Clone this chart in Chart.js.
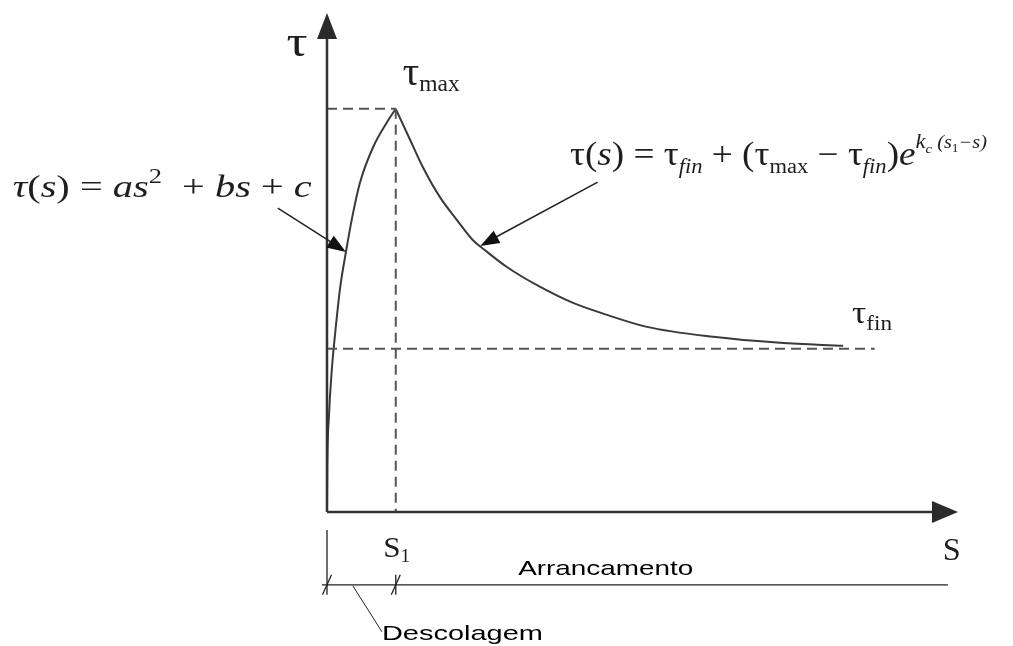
<!DOCTYPE html>
<html>
<head>
<meta charset="utf-8">
<script src="https://cdn.jsdelivr.net/npm/chart.js@4/dist/chart.umd.min.js"></script>
<style>
  body { margin: 0; background: #fff; }
  #wrap { width: 1013px; height: 646px; }
</style>
</head>
<body>
<div id="wrap"><canvas id="bondChart"></canvas></div>
<script>
const riseS = [0, 0.005, 0.03, 0.08, 0.13, 0.21, 0.30, 0.40, 0.52, 0.73, 0.97, 1.09];
const riseTau = [0, 0.90, 1.90, 2.91, 3.59, 4.51, 5.21, 5.91, 6.59, 7.31, 7.85, 8.08];
const decayS = [1.09, 1.32, 1.52, 1.79, 2.06, 2.31, 2.50, 2.85, 3.38, 3.90, 4.44, 5.07, 6.12, 7.18, 8.18];
const decayTau = [8.08, 7.45, 6.91, 6.31, 5.85, 5.45, 5.25, 4.91, 4.51, 4.19, 3.95, 3.71, 3.51, 3.39, 3.33];

const s1 = 1.09;
const tauMax = 8.08;
const tauFin = 3.27;
const finEnd = 8.68;

const serif = '"Liberation Serif", "Times New Roman", serif';
const sans = '"Liberation Sans", Arial, sans-serif';

const toPoints = (xs, ys) => xs.map((x, i) => ({ x: x, y: ys[i] }));

// texto com índices, esticado horizontalmente até à largura pedida
function rich(ctx, x, y, parts, width) {
  let total = 0;
  parts.forEach(p => { ctx.font = p.f; p.w = ctx.measureText(p.t).width; total += p.w; });
  const sx = width ? width / total : 1;
  ctx.save();
  ctx.translate(x, y);
  ctx.scale(sx, 1);
  let cx = 0;
  parts.forEach(p => { ctx.font = p.f; ctx.fillText(p.t, cx, p.dy || 0); cx += p.w; });
  ctx.restore();
}

function arrowHead(ctx, x0, y0, x1, y1, len, half) {
  const a = Math.atan2(y1 - y0, x1 - x0);
  ctx.beginPath();
  ctx.moveTo(x1, y1);
  ctx.lineTo(x1 - len * Math.cos(a) + half * Math.sin(a), y1 - len * Math.sin(a) - half * Math.cos(a));
  ctx.lineTo(x1 - len * Math.cos(a) - half * Math.sin(a), y1 - len * Math.sin(a) + half * Math.cos(a));
  ctx.closePath();
  ctx.fill();
}

function line(ctx, a, b, c, d) {
  ctx.beginPath();
  ctx.moveTo(a, b);
  ctx.lineTo(c, d);
  ctx.stroke();
}

const sketch = {
  id: "sketch",
  afterDatasetsDraw(chart) {
    const ctx = chart.ctx;
    const X = v => chart.scales.x.getPixelForValue(v);
    const Y = v => chart.scales.y.getPixelForValue(v);
    ctx.save();
    ctx.fillStyle = "#2b2b2b";
    ctx.strokeStyle = "#333";

    // eixos
    ctx.lineWidth = 2.5;
    line(ctx, X(0), Y(0), X(0), Y(10) + 20);
    line(ctx, X(0), Y(0), X(10) - 20, Y(0));
    arrowHead(ctx, X(0), Y(0), X(0), Y(10), 26, 10);
    arrowHead(ctx, X(0), Y(0), X(10), Y(0), 26, 11);

    // setas das fórmulas
    ctx.lineWidth = 1.5;
    ctx.strokeStyle = "#222";
    ctx.fillStyle = "#111";
    line(ctx, X(-0.78), Y(6.09), X(0.30) - 10, Y(5.21) - 7);
    arrowHead(ctx, X(-0.78), Y(6.09), X(0.30), Y(5.21), 19, 7);
    line(ctx, X(4.29), Y(6.61), X(2.43) + 12, Y(5.33) - 7);
    arrowHead(ctx, X(4.29), Y(6.61), X(2.43), Y(5.33), 19, 7);

    // cotas Arrancamento / Descolagem
    ctx.lineWidth = 1.3;
    line(ctx, X(-0.08), Y(-1.46), X(9.84), Y(-1.46));
    line(ctx, X(0), Y(-0.36), X(0), Y(-1.66));
    line(ctx, X(s1), Y(-1.26), X(s1), Y(-1.66));
    [0, s1].forEach(v => line(ctx, X(v) - 4.5, Y(-1.46) + 10, X(v) + 4.5, Y(-1.46) - 10));
    ctx.lineWidth = 1;
    line(ctx, X(0.41), Y(-1.48), X(0.87), Y(-2.40));

    // textos
    ctx.textBaseline = "alphabetic";
    ctx.fillStyle = "#1e1e1e";
    rich(ctx, X(-0.64), Y(9.14), [{ t: "τ", f: "44px " + serif }], 21);
    rich(ctx, X(1.20), Y(8.56), [
      { t: "τ", f: "40px " + serif },
      { t: "max", f: "23px " + serif, dy: 6 }
    ], 57);
    rich(ctx, X(8.32), Y(3.79), [
      { t: "τ", f: "32px " + serif },
      { t: "fin", f: "21px " + serif, dy: 7 }
    ], 40);
    rich(ctx, X(0.89), Y(-0.90), [
      { t: "S", f: "29px " + serif },
      { t: "1", f: "18px " + serif, dy: 5 }
    ], 27);
    rich(ctx, X(9.76), Y(-0.96), [{ t: "S", f: "31px " + serif }], 18);

    rich(ctx, X(-4.98), Y(6.31), [
      { t: "τ", f: "italic 32px " + serif },
      { t: "(", f: "32px " + serif },
      { t: "s", f: "italic 32px " + serif },
      { t: ") = ", f: "32px " + serif },
      { t: "as", f: "italic 32px " + serif },
      { t: "2", f: "21px " + serif, dy: -14 },
      { t: "  + ", f: "32px " + serif },
      { t: "bs", f: "italic 32px " + serif },
      { t: " + ", f: "32px " + serif },
      { t: "c", f: "italic 32px " + serif }
    ], 299);

    rich(ctx, X(3.85), Y(6.95), [
      { t: "τ(", f: "33px " + serif },
      { t: "s", f: "italic 33px " + serif },
      { t: ") = τ", f: "33px " + serif },
      { t: "fin", f: "italic 20px " + serif, dy: 8 },
      { t: " + (τ", f: "33px " + serif },
      { t: "max", f: "20px " + serif, dy: 8 },
      { t: " − τ", f: "33px " + serif },
      { t: "fin", f: "italic 20px " + serif, dy: 8 },
      { t: ")", f: "33px " + serif },
      { t: "e", f: "italic 33px " + serif },
      { t: "k", f: "italic 20px " + serif, dy: -17 },
      { t: "c", f: "italic 13px " + serif, dy: -12 },
      { t: " (s", f: "italic 18px " + serif, dy: -17 },
      { t: "1", f: "12px " + serif, dy: -13 },
      { t: "−s)", f: "italic 18px " + serif, dy: -17 }
    ], 417);

    ctx.fillStyle = "#000";
    rich(ctx, X(3.03), Y(-1.26), [{ t: "Arrancamento", f: "21px " + sans }], 175);
    rich(ctx, X(0.87), Y(-2.57), [{ t: "Descolagem", f: "21px " + sans }], 161);
    ctx.restore();
  }
};

const dashed = {
  borderColor: "#555",
  borderWidth: 2,
  borderDash: [10, 6],
  pointRadius: 0
};

const curve = {
  borderColor: "#3a3a3a",
  borderWidth: 2,
  pointRadius: 0,
  cubicInterpolationMode: "monotone"
};

new Chart(document.getElementById("bondChart"), {
  type: "line",
  data: {
    datasets: [
      { ...dashed, data: toPoints([0, s1], [tauMax, tauMax]) },
      { ...dashed, data: toPoints([s1, s1], [tauMax, 0]) },
      { ...dashed, data: toPoints([0, finEnd], [tauFin, tauFin]) },
      { ...curve, data: toPoints(riseS, riseTau) },
      { ...curve, data: toPoints(decayS, decayTau) }
    ]
  },
  options: {
    responsive: true,
    maintainAspectRatio: false,
    devicePixelRatio: 1,
    animation: false,
    layout: { padding: { left: 327, right: 55, top: 13, bottom: 134 } },
    scales: {
      x: { type: "linear", min: 0, max: 10, display: false },
      y: { min: 0, max: 10, display: false }
    },
    plugins: {
      legend: { display: false },
      tooltip: { enabled: false }
    }
  },
  plugins: [sketch]
});
</script>
</body>
</html>
